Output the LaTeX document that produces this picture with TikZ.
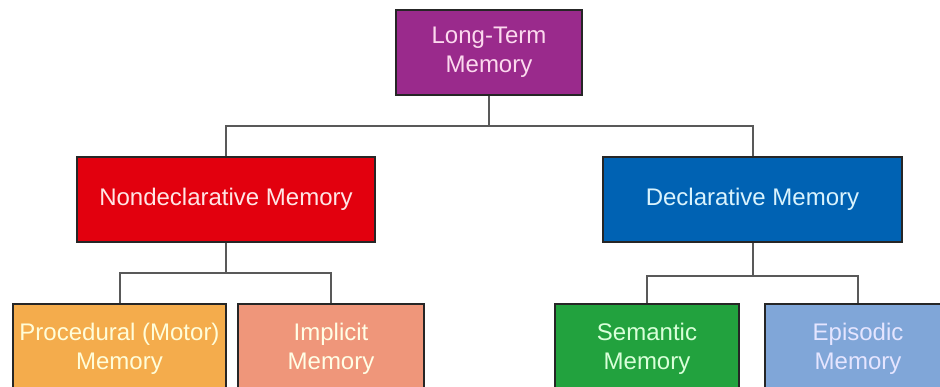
\documentclass[tikz,border=0pt]{standalone}
\usepackage{fontspec}
\setmainfont{Liberation Sans}
\begin{document}
\begin{tikzpicture}[x=1pt,y=-1pt,
  membox/.style={draw=black!85, line width=2.5pt, rectangle, inner sep=0pt,
    align=center, font=\fontsize{24}{29}\selectfont, minimum height=85pt},
  link/.style={draw=black!65, line width=2pt}]
\useasboundingbox (0,0) rectangle (940,387);
\clip (0,0) rectangle (940,387);
\fill[white] (0,0) rectangle (940,387);
\definecolor{cltm}{HTML}{9A2A8C}
\definecolor{cnd}{HTML}{E2000E}
\definecolor{cdm}{HTML}{0062B3}
\definecolor{cproc}{HTML}{F4AC4C}
\definecolor{cimpl}{HTML}{EF967A}
\definecolor{csem}{HTML}{22A23E}
\definecolor{cepi}{HTML}{80A6D8}
\node[membox, fill=cltm, text=white!85!magenta, minimum width=186pt] (ltm) at (489,52.5) {Long-Term\\Memory};
\node[membox, fill=cnd, text=white!90!red, minimum width=298pt] (nd) at (226,199.5) {Nondeclarative Memory};
\node[membox, fill=cdm, text=white!85!cyan, minimum width=299pt] (dm) at (752.5,199.5) {Declarative Memory};
\node[membox, fill=cproc, text=white!85!yellow, minimum width=213pt, minimum height=90pt] (proc) at (119.5,349) {Procedural (Motor)\\Memory};
\node[membox, fill=cimpl, text=white!90!yellow, minimum width=186pt, minimum height=90pt] (impl) at (331,349) {Implicit\\Memory};
\node[membox, fill=csem, text=white!85!green, minimum width=184pt, minimum height=90pt] (sem) at (647,349) {Semantic\\Memory};
\node[membox, fill=cepi, text=white!90!blue, minimum width=186pt, minimum height=90pt] (epi) at (858,349) {Episodic\\Memory};
\coordinate (j1) at (489,126);
\coordinate (j2) at (226,273);
\coordinate (j3) at (752.5,276);
\draw[link] (ltm.south) -- (j1);
\draw[link] (nd.north) |- (j1) -| (dm.north);
\draw[link] (nd.south) -- (j2);
\draw[link] (proc.north) |- (j2) -| (impl.north);
\draw[link] (dm.south) -- (j3);
\draw[link] (sem.north) |- (j3) -| (epi.north);
\end{tikzpicture}
\end{document}
